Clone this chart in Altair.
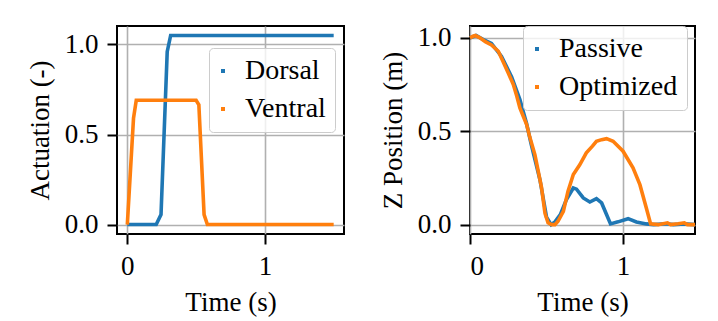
import altair as alt
import pandas as pd

# ---------- data ----------
dorsal_t = [0.0, 0.21, 0.245, 0.29, 0.315, 1.5]
dorsal_v = [0.0, 0.0, 0.055, 0.96, 1.05, 1.05]

ventral_t = [0.0, 0.045, 0.065, 0.50, 0.52, 0.558, 0.582, 1.5]
ventral_v = [0.0, 0.59, 0.69, 0.69, 0.665, 0.055, 0.0, 0.0]

passive_t = [0.0, 0.04, 0.087, 0.14, 0.206, 0.272, 0.326, 0.37, 0.40, 0.457, 0.50,
             0.53, 0.555, 0.59, 0.63, 0.675, 0.696, 0.74, 0.783, 0.826, 0.86, 0.892,
             0.918, 0.967, 1.033, 1.087, 1.152, 1.20, 1.28, 1.33, 1.40, 1.47]
passive_v = [1.0, 1.012, 0.99, 0.97, 0.90, 0.79, 0.67, 0.54, 0.43, 0.24, 0.04,
             0.0, 0.015, 0.054, 0.134, 0.196, 0.19, 0.143, 0.121, 0.139, 0.116, 0.054,
             0.004, 0.015, 0.032, 0.014, 0.004, 0.0, 0.005, 0.0, 0.004, 0.0]

optim_t = [0.0, 0.02, 0.035, 0.065, 0.10, 0.14, 0.185, 0.215, 0.25, 0.283, 0.305,
           0.326, 0.348, 0.37, 0.39, 0.424, 0.467, 0.49, 0.51, 0.533, 0.555, 0.575,
           0.61, 0.64, 0.675, 0.717, 0.76, 0.80, 0.826, 0.86, 0.892, 0.935, 1.0,
           1.065, 1.11, 1.152, 1.18, 1.23, 1.29, 1.31, 1.36, 1.40, 1.42, 1.47]
optim_v = [1.0, 1.008, 1.012, 1.0, 0.979, 0.962, 0.928, 0.875, 0.812, 0.75, 0.69,
           0.625, 0.58, 0.536, 0.47, 0.375, 0.20, 0.06, 0.01, 0.0, 0.0, 0.018,
           0.071, 0.178, 0.268, 0.32, 0.384, 0.42, 0.446, 0.455, 0.46, 0.446, 0.393,
           0.304, 0.214, 0.089, 0.004, 0.0, 0.01, 0.0, 0.005, 0.01, 0.0, 0.0]

x_ticks = [0, 1]
y_ticks = [0.0, 0.5, 1.0]

BLUE = "#1f77b4"
ORANGE = "#ff7f0e"
FONT = "Liberation Serif"
FS = 27


def frame(t, v, name):
    return pd.DataFrame({"t": t, "v": v, "series": name})


def legend(x, y):
    return alt.Legend(
        title=None, orient="none", legendX=x, legendY=y,
        symbolType="stroke", symbolSize=16, symbolStrokeWidth=4,
        symbolOffset=-9,
        labelFont=FONT, labelFontSize=28, labelColor="black",
        labelOffset=8, padding=9, rowPadding=10,
        strokeColor="#cccccc", fillColor="rgba(255,255,255,0.8)", cornerRadius=4,
    )


def panel(d1, d2, names, xdom, ydom, ytitle, w, h, lx, ly):
    color = alt.Color(
        "series:N",
        scale=alt.Scale(domain=names, range=[BLUE, ORANGE]),
        legend=legend(lx, ly),
    )
    x = alt.X("t:Q", title="Time (s)",
              scale=alt.Scale(domain=xdom, nice=False, zero=False),
              axis=alt.Axis(values=x_ticks, format="d"))
    y = alt.Y("v:Q", title=ytitle,
              scale=alt.Scale(domain=ydom, nice=False, zero=False),
              axis=alt.Axis(values=y_ticks, format=".1f"))
    l1 = alt.Chart(d1).mark_line(strokeWidth=3.6).encode(x=x, y=y, color=color)
    l2 = alt.Chart(d2).mark_line(strokeWidth=3.6).encode(x=x, y=y, color=color)
    return alt.layer(l1, l2).properties(width=w, height=h)


left = panel(frame(dorsal_t, dorsal_v, "Dorsal"), frame(ventral_t, ventral_v, "Ventral"),
             ["Dorsal", "Ventral"], [-0.075, 1.575], [-0.0525, 1.1025],
             "Actuation (-)", 227, 208, 92, 22)
right = panel(frame(passive_t, passive_v, "Passive"), frame(optim_t, optim_v, "Optimized"),
              ["Passive", "Optimized"], [0.0, 1.47], [-0.05, 1.063],
              "Z Position (m)", 225, 208, 53, 0)

chart = alt.hconcat(left, right, spacing=126, bounds="flush").resolve_scale(
    color="independent").resolve_legend(color="independent").properties(
    padding={"left": 17, "top": 14, "right": 5, "bottom": 5}
).configure_view(stroke="black", strokeWidth=2).configure_axis(
    domain=False, grid=True, gridColor="#b0b0b0", gridWidth=1.6,
    tickColor="black", tickWidth=2, tickSize=10,
    labelFont=FONT, labelFontSize=FS, labelColor="black", labelPadding=9,
    titleFont=FONT, titleFontSize=FS, titleColor="black", titleFontWeight="normal",
    titlePadding=10,
)

chart.save("out.html", embed_options={"renderer": "svg", "actions": False})
